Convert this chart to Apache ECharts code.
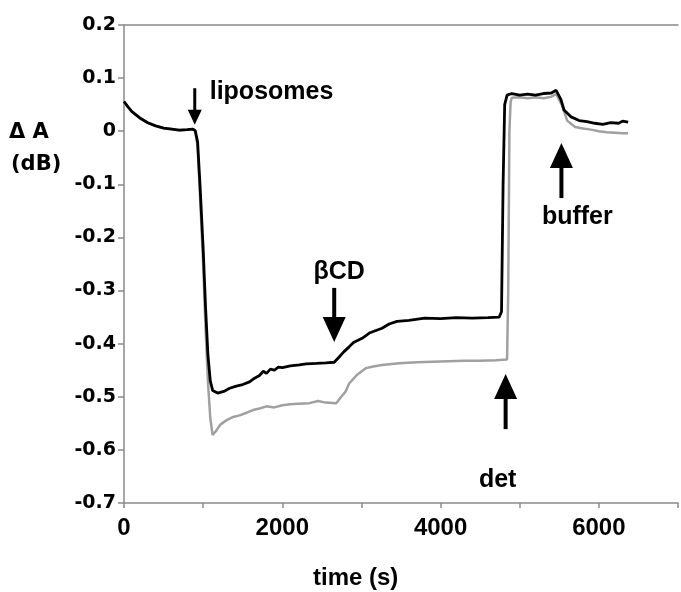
<!DOCTYPE html>
<html><head><meta charset="utf-8">
<script src="https://cdn.jsdelivr.net/npm/echarts@6/dist/echarts.min.js"></script>
<style>html,body{margin:0;padding:0;background:#fff}#c{width:681px;height:592px}</style>
</head><body><div id="c"></div>
<script>
// ---- data (time in s, ΔA in dB) ----
const blackTime = [0,50,100,200,300,400,500,600,700,800,870,900,930,960,1000,1030,1060,1090,1120,1183,1260,1335,1420,1500,1586,1650,1712,1760,1800,1850,1900,1950,2002,2100,2216,2300,2430,2550,2656,2719,2780,2845,2900,3009,3100,3260,3350,3450,3600,3800,4000,4200,4400,4600,4740,4770,4790,4810,4840,4900,5000,5100,5200,5300,5400,5460,5520,5560,5650,5750,5850,5950,6050,6150,6250,6300,6370];
const blackValue = [0.056,0.046,0.037,0.025,0.016,0.010,0.006,0.004,0.002,0.003,0.004,0.001,-0.02,-0.1,-0.22,-0.33,-0.42,-0.47,-0.488,-0.493,-0.49,-0.484,-0.48,-0.477,-0.472,-0.465,-0.46,-0.452,-0.456,-0.448,-0.45,-0.444,-0.445,-0.442,-0.44,-0.438,-0.437,-0.436,-0.435,-0.425,-0.415,-0.406,-0.398,-0.39,-0.38,-0.371,-0.363,-0.358,-0.356,-0.352,-0.353,-0.351,-0.352,-0.351,-0.35,-0.34,-0.1,0.05,0.068,0.071,0.068,0.07,0.068,0.071,0.072,0.077,0.06,0.04,0.027,0.02,0.018,0.015,0.013,0.016,0.015,0.019,0.017];
const grayTime = [0,50,100,200,300,400,500,600,700,800,870,900,930,960,1000,1030,1060,1090,1120,1160,1220,1297,1380,1460,1550,1630,1712,1800,1900,2002,2100,2200,2342,2450,2550,2682,2745,2800,2845,2950,3059,3150,3260,3475,3700,3900,4100,4300,4500,4700,4840,4855,4870,4885,4900,5000,5100,5200,5300,5400,5460,5530,5600,5700,5800,5900,6000,6100,6200,6300,6370];
const grayValue = [0.056,0.046,0.037,0.025,0.016,0.010,0.006,0.004,0.002,0.003,0.004,0.001,-0.03,-0.12,-0.25,-0.37,-0.47,-0.54,-0.572,-0.565,-0.552,-0.544,-0.538,-0.535,-0.53,-0.525,-0.522,-0.518,-0.52,-0.516,-0.514,-0.513,-0.512,-0.508,-0.511,-0.512,-0.5,-0.49,-0.475,-0.458,-0.446,-0.443,-0.44,-0.437,-0.435,-0.434,-0.433,-0.432,-0.432,-0.431,-0.43,-0.3,0.0,0.055,0.063,0.064,0.062,0.064,0.062,0.065,0.07,0.05,0.02,0.008,0.005,0.003,0.0,-0.002,-0.003,-0.004,-0.004];

// x-axis labels shown (others blank)
const xTickLabels = [0, 2000, 4000, 6000];

// annotations (data coordinates)
const annotText = ['liposomes', 'βCD', 'buffer', 'det'];
const annotTime = [1083, 2719, 5728, 4721];
const annotValue = [0.074, -0.265, -0.162, -0.657];
const arrowTime = [894, 2656, 5527, 4822];
const arrowTail = [0.081, -0.295, -0.124, -0.559];
const arrowTip = [0.012, -0.397, -0.022, -0.457];

const zip = (a, b) => a.map((t, i) => [t, b[i]]);
const axisColor = '#8a8a8a';
const labelFont = '"Liberation Sans", Arial, sans-serif';

const chart = echarts.init(document.getElementById('c'), null, {renderer: 'canvas'});
chart.setOption({
  animation: false,
  backgroundColor: '#fff',
  grid: {left: 124, right: 1, top: 25, bottom: 89, containLabel: false},
  xAxis: [{
    type: 'value', min: 0, max: 7000, interval: 1000, position: 'bottom',
    axisLine: {show: true, onZero: false, lineStyle: {color: axisColor, width: 1.5}},
    axisTick: {show: true, length: 5, lineStyle: {color: axisColor, width: 1.5}},
    splitLine: {show: false},
    axisLabel: {
      margin: 13, color: '#000', fontWeight: 'bold', fontSize: 24, fontFamily: labelFont,
      formatter: v => xTickLabels.indexOf(v) >= 0 ? String(v) : ''
    }
  }, {
    type: 'value', min: 0, max: 7000, position: 'top',
    axisLine: {show: true, onZero: false, lineStyle: {color: axisColor, width: 1.5}},
    axisTick: {show: false}, axisLabel: {show: false}, splitLine: {show: false}
  }],
  yAxis: {
    type: 'value', min: -0.7, max: 0.2, interval: 0.1,
    axisLine: {show: true, onZero: false, lineStyle: {color: axisColor, width: 1.5}},
    axisTick: {show: true, length: 6, lineStyle: {color: axisColor, width: 1.5}},
    splitLine: {show: false},
    axisLabel: {
      margin: 8, color: '#000', fontWeight: 'bold', fontSize: 19, fontFamily: '"DejaVu Sans", sans-serif',
      formatter: v => Math.abs(v) < 1e-9 ? '0' : v.toFixed(1)
    }
  },
  series: [{
    type: 'line', data: zip(grayTime, grayValue), showSymbol: false, symbol: 'none',
    lineStyle: {color: '#a0a0a0', width: 2.5}, z: 2
  }, {
    type: 'line', data: zip(blackTime, blackValue), showSymbol: false, symbol: 'none',
    lineStyle: {color: '#000', width: 2.8}, z: 3
  }]
});

const g = [];
const px = (t, v) => chart.convertToPixel({gridIndex: 0}, [t, v]);
arrowTime.forEach((t, i) => {
  const small = i === 0;
  const headW = small ? 14 : 23, headH = small ? 15 : 25, shaftW = small ? 3 : 4;
  const [x, y1] = px(t, arrowTail[i]);
  const y2 = px(t, arrowTip[i])[1];
  const dir = y2 > y1 ? 1 : -1;
  const yb = y2 - dir * headH;
  g.push({type: 'rect', shape: {x: x - shaftW / 2, y: Math.min(y1, yb), width: shaftW, height: Math.abs(yb - y1) + 1}, style: {fill: '#000'}, z: 10});
  g.push({type: 'polygon', shape: {points: [[x - headW / 2, yb], [x + headW / 2, yb], [x, y2]]}, style: {fill: '#000'}, z: 10});
});
annotText.forEach((s, i) => {
  const [x, y] = px(annotTime[i], annotValue[i]);
  g.push({type: 'text', x: x, y: y, style: {text: s, fill: '#000', font: 'bold 25px ' + labelFont, align: i === 0 ? 'left' : 'center', verticalAlign: 'middle'}, z: 10});
});
g.push({type: 'text', left: 313, top: 566, style: {text: 'time (s)', fill: '#000', font: 'bold 24px ' + labelFont}});
g.push({type: 'text', left: 9, top: 122, style: {text: 'Δ A', fill: '#000', font: 'bold 21px "DejaVu Sans", sans-serif'}});
g.push({type: 'text', left: 11, top: 154, style: {text: '(dB)', fill: '#000', font: 'bold 21px "DejaVu Sans", sans-serif'}});
chart.setOption({graphic: g});
</script>
</body></html>
